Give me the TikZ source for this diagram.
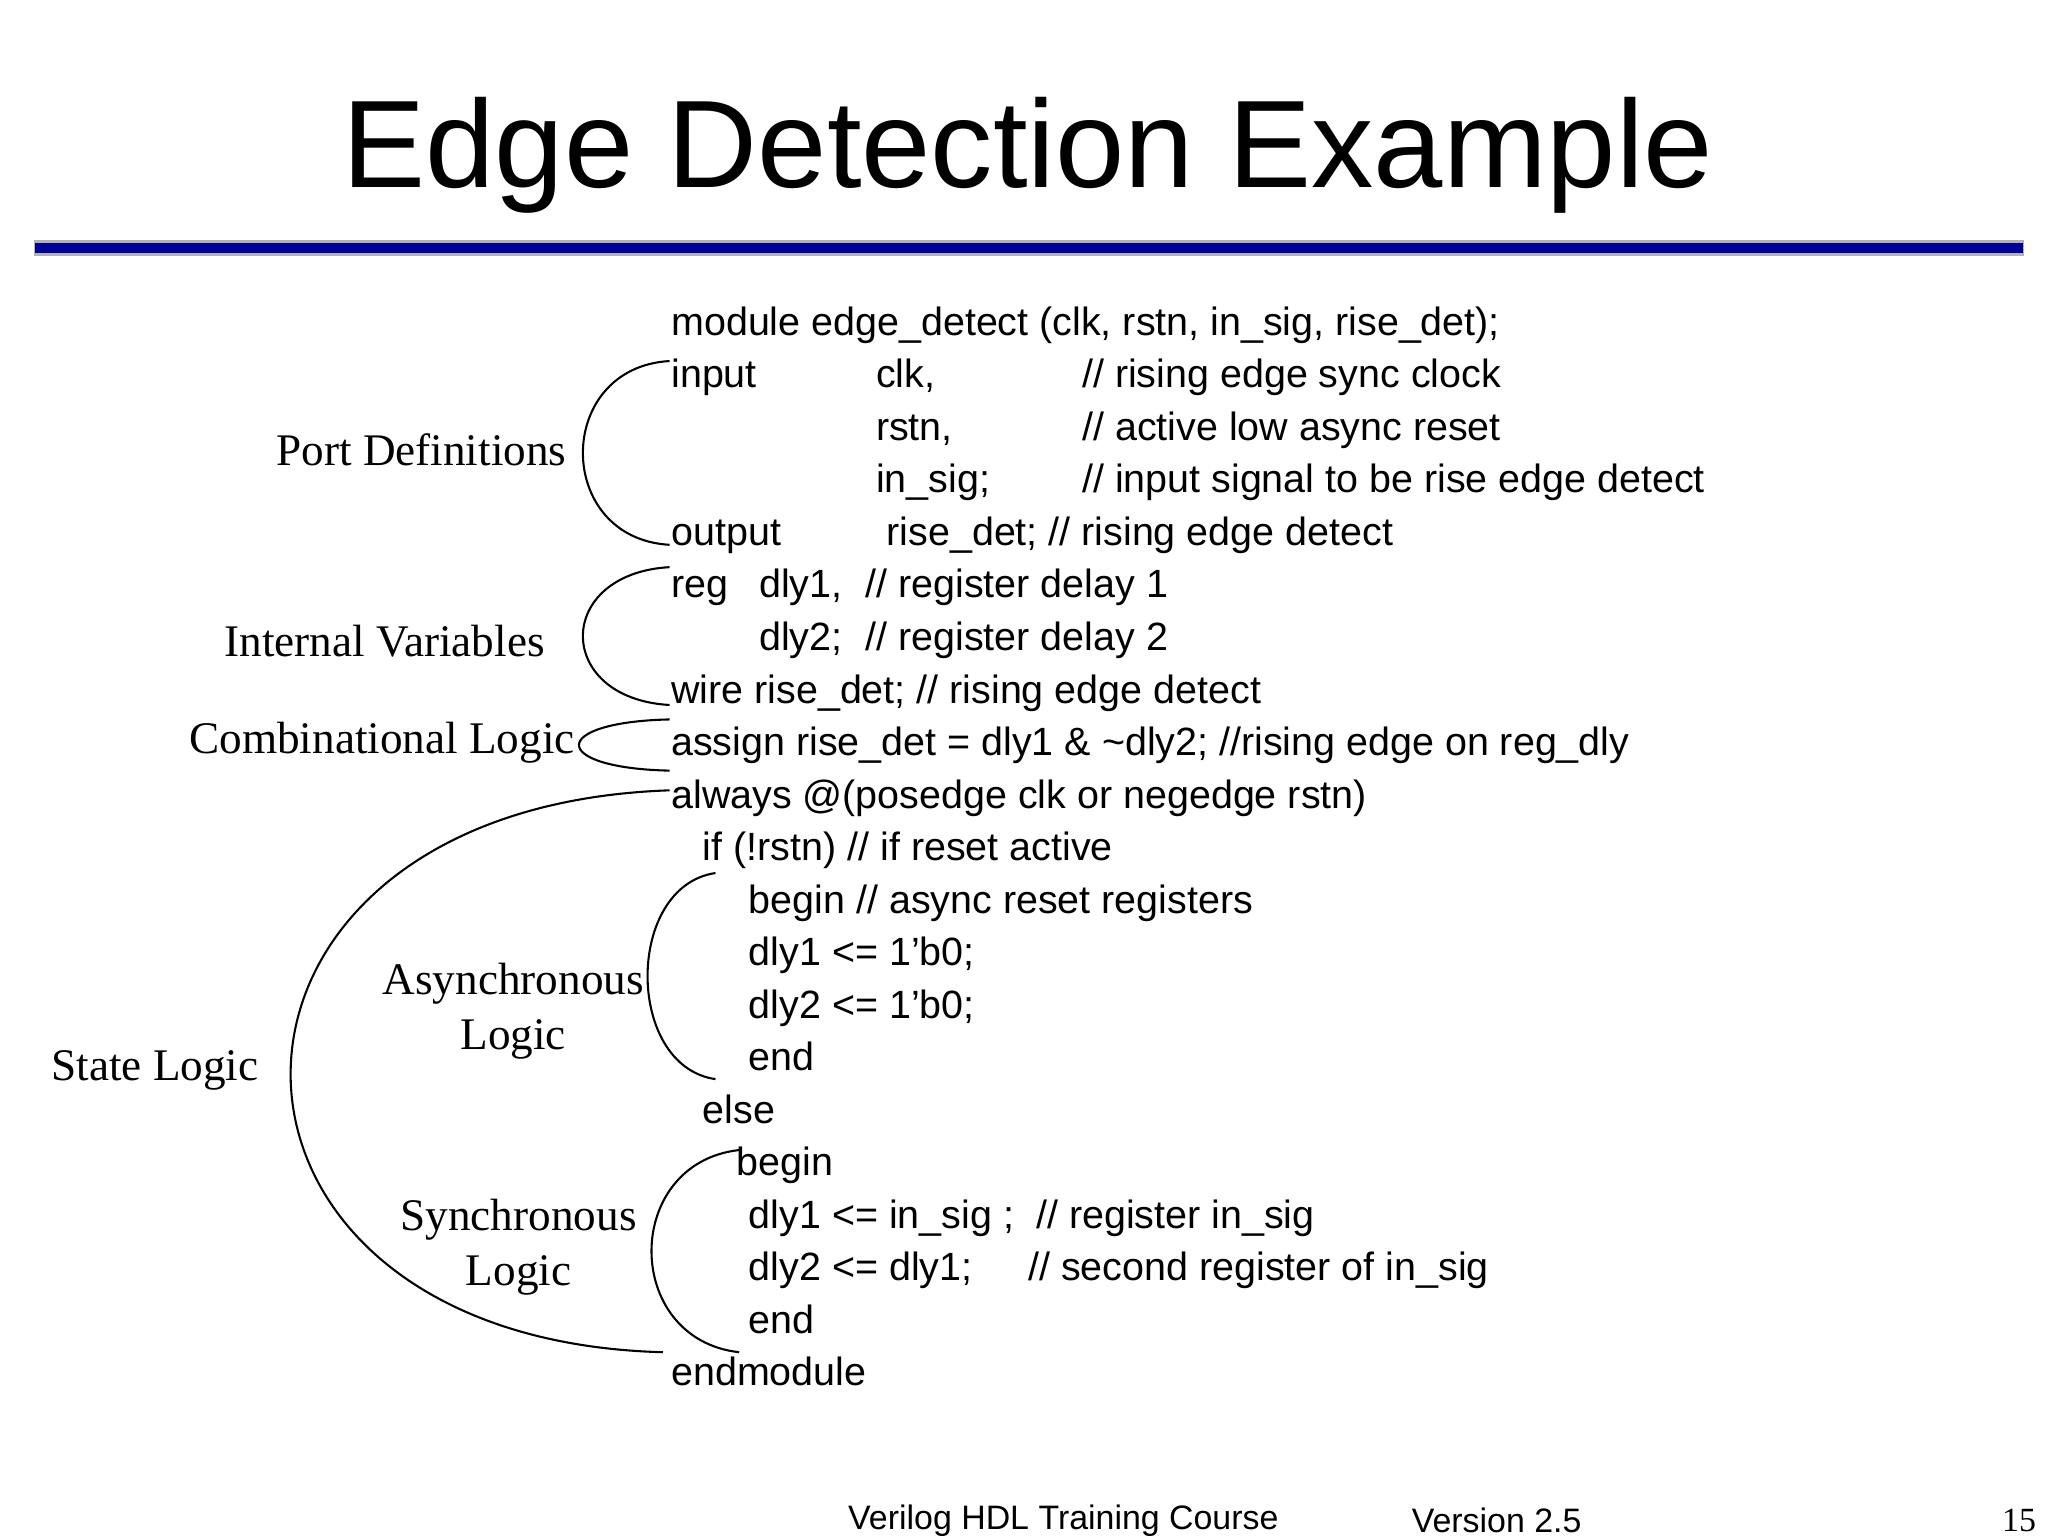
\documentclass[tikz,border=0pt]{standalone}
\usepackage{fontspec}
\setmainfont{Liberation Serif}
\setsansfont{Liberation Sans}
\begin{document}
\begin{tikzpicture}[x=0.02cm,y=-0.02cm,
  code/.style={anchor=base west,inner sep=0pt,font=\sffamily\fontsize{17.1}{20}\selectfont},
  lab/.style={align=center,inner sep=0pt,font=\rmfamily\fontsize{19.6}{24}\selectfont},
  brace/.style={draw=black,line width=0.9pt}]
\useasboundingbox (0,0) rectangle (1560,1170);
\node[inner sep=0pt,font=\sffamily\fontsize{54}{60}\selectfont] (title) at (783,118) {Edge Detection Example};
\fill[gray!60] (26,183) rectangle (1542,195);
\fill[blue!60!black] (27,185) rectangle (1541,193);
% code
\begin{scope}[yshift=0.05cm,xshift=-0.04cm]
\node[code] (l1) at (513,258) {module edge\_detect (clk, rstn, in\_sig, rise\_det);};
\node[code] (l2a) at (513,298) {input};
\node[code] (l2b) at (669,298) {clk,};
\node[code] (l2c) at (826,298) {// rising edge sync clock};
\node[code] (l3b) at (669,338) {rstn,};
\node[code] (l3c) at (826,338) {// active low async reset};
\node[code] (l4b) at (669,378) {in\_sig;};
\node[code] (l4c) at (826,378) {// input signal to be rise edge detect};
\node[code] (l5a) at (513,418) {output};
\node[code] (l5b) at (677,418) {rise\_det; // rising edge detect};
\node[code] (l6a) at (513,458) {reg};
\node[code] (l6b) at (580,458) {dly1,};
\node[code] (l6c) at (661,458) {// register delay 1};
\node[code] (l7b) at (580,498) {dly2;};
\node[code] (l7c) at (661,498) {// register delay 2};
\node[code] (l8) at (513,538) {wire rise\_det; // rising edge detect};
\node[code] (l9) at (513,578) {assign rise\_det = dly1 \& \textasciitilde dly2; //rising edge on reg\_dly};
\node[code] (l10) at (513,618) {always @(posedge clk or negedge rstn)};
\node[code] (l11) at (537,658) {if (!rstn) // if reset active};
\node[code] (l12) at (572,698) {begin // async reset registers};
\node[code] (l13) at (572,738) {dly1 <= 1’b0;};
\node[code] (l14) at (572,778) {dly2 <= 1’b0;};
\node[code] (l15) at (572,818) {end};
\node[code] (l16) at (537,858) {else};
\node[code] (l17) at (563,898) {begin};
\node[code] (l18a) at (572,938) {dly1 <= in\_sig ;};
\node[code] (l18b) at (791,938) {// register in\_sig};
\node[code] (l19a) at (572,978) {dly2 <= dly1;};
\node[code] (l19b) at (785,978) {// second register of in\_sig};
\node[code] (l20) at (572,1018) {end};
\node[code] (l21) at (513,1058) {endmodule};
\end{scope}
% labels
\node[lab] (pd) at (321,343) {Port Definitions};
\node[lab] (iv) at (293,488) {Internal Variables};
\node[lab] (cl) at (291,566) {Combinational Logic};
\node[lab] (sl) at (118,815) {State Logic};
\node[lab] (al) at (391,770) {Asynchronous\\Logic};
\node[lab] (syl) at (395,950) {Synchronous\\Logic};
% braces
\coordinate (p1) at (510,275); \coordinate (p2) at (510,415);
\draw[brace] (p1) .. controls (422,280) and (422,410) .. (p2);
\coordinate (i1) at (510,432); \coordinate (i2) at (510,537);
\draw[brace] (i1) .. controls (422,437) and (422,532) .. (i2);
\coordinate (c1) at (510,548); \coordinate (c2) at (510,587);
\draw[brace] (c1) .. controls (418,550) and (418,585) .. (c2);
\coordinate (s1) at (510,602); \coordinate (s2) at (505,1030);
\draw[brace] (s1) .. controls (126,615) and (126,1020) .. (s2);
\coordinate (a1) at (545,665); \coordinate (a2) at (545,822);
\draw[brace] (a1) .. controls (476,675) and (476,812) .. (a2);
\coordinate (y1) at (563,876); \coordinate (y2) at (563,1030);
\draw[brace] (y1) .. controls (474,886) and (474,1020) .. (y2);
% footer
\node[inner sep=0pt,font=\sffamily\fontsize{14.7}{18}\selectfont] (f1) at (810,1158) {Verilog HDL Training Course};
\node[inner sep=0pt,font=\sffamily\fontsize{14.7}{18}\selectfont] (f2) at (1140,1158) {Version 2.5};
\node[inner sep=0pt,font=\rmfamily\fontsize{14.7}{18}\selectfont] (f3) at (1538,1158) {15};
\end{tikzpicture}
\end{document}
